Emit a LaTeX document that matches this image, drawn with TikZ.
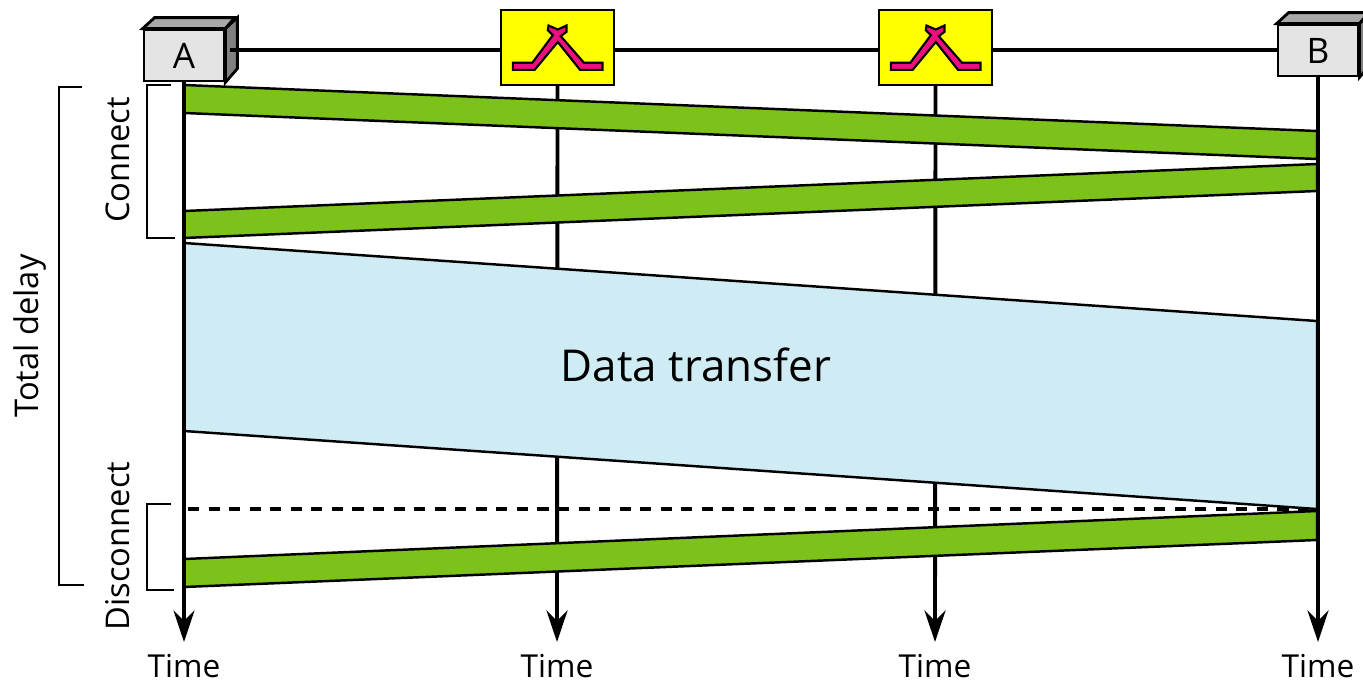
\documentclass[tikz,border=0pt]{standalone}
\usepackage{fontspec}
\setmainfont{Open Sans}
\usetikzlibrary{
  arrows.meta
}

\definecolor{bandgreen}{HTML}{7DC21A}
\definecolor{datablue}{HTML}{CFECF5}
\definecolor{crosspink}{HTML}{EE0F7F}
\definecolor{switchyellow}{HTML}{FFFF00}
\definecolor{hostfront}{HTML}{E4E4E4}
\definecolor{hosttop}{HTML}{A8A8A8}
\definecolor{hostside}{HTML}{808080}

\tikzset{
  hostbox/.style={draw,line width=1.6pt,fill=hostfront,minimum width=1.6cm,minimum height=1.02cm,inner sep=0pt,font=\fontsize{20}{24}\selectfont},
  switchbox/.style={draw,line width=1.6pt,fill=switchyellow,minimum width=2.26cm,minimum height=1.5cm,inner sep=0pt},
  timelabel/.style={anchor=north,inner xsep=0pt,inner ysep=0pt,text height=20pt,text depth=0pt,font=\fontsize{18}{21}\selectfont},
  sidelabel/.style={rotate=90,inner sep=0pt,font=\fontsize{18.6}{22}\selectfont},
  timeline/.style={line width=2.2pt,-{Stealth[length=18pt,width=12pt,inset=6pt]}},
  wire/.style={line width=2.2pt},
  band/.style={draw,line width=1.4pt,fill=bandgreen},
  bracket/.style={line width=.8pt},
  crossing/.pic={
    \draw[line width=1.2pt,fill=crosspink,line join=miter] (-44.7,15.3) -- (-25.2,15.3) -- (-4.7,-12.3) -- (-9.7,-17.3) -- (-9,-22) -- (.3,-18) -- (9,-22) -- (9,-15.7) -- (3.3,-11.3) -- (26.5,15.3) -- (45,15.3) -- (45,22.3) -- (22.5,22.3) -- (.3,-5.5) -- (-22.8,22.3) -- (-44.7,22.3) -- cycle;
  }
}

\newcommand{\hostfaces}[1]{
  \draw[line width=1.6pt,fill=hosttop] (#1.north west) -- ++(12,-11) -- ++(80,0) -- (#1.north east) -- cycle;
  \draw[line width=1.6pt,fill=hostside] (#1.north east) -- ++(12,-11) -- ++(0,51) -- (#1.south east) -- cycle;
}

\begin{document}
\begin{tikzpicture}[x=.02cm,y=-.02cm]
  \useasboundingbox (0,0) rectangle (1363,680);

  \node[hostbox] (hostA) at (184,55.5) {A};
  \node[hostbox] (hostB) at (1318,50.5) {B};
  \hostfaces{hostA}
  \hostfaces{hostB}
  \node[switchbox] (switchL) at (557.5,47.5) {};
  \node[switchbox] (switchR) at (935.5,47.5) {};
  \pic at (switchL) {crossing};
  \pic at (switchR) {crossing};

  \coordinate (portA) at (230,50);
  \draw[wire] (portA) -- (portA -| switchL.west);
  \draw[wire] (portA -| switchL.east) -- (portA -| switchR.west);
  \draw[wire] (portA -| switchR.east) -- (portA -| hostB.west);

  \node[timelabel] (timeA) at (184,642) {Time};
  \node[timelabel] (timeL) at (557,642) {Time};
  \node[timelabel] (timeR) at (935,642) {Time};
  \node[timelabel] (timeB) at (1318,642) {Time};

  \draw[timeline] (switchL) ++(0,37.5) -- (timeL.north);
  \draw[timeline] (switchR) ++(0,37.5) -- (timeR.north);

  \draw[band] (184,85) -- (1317,131) -- (1317,159) -- (184,113) -- cycle;
  \draw[band] (184,211) -- (1317,164) -- (1317,191) -- (184,238) -- cycle;
  \draw[band,fill=datablue] (184,243) -- (1317,321) -- (1317,509) -- (184,431) -- cycle;
  \draw[band] (184,559) -- (1317,511) -- (1317,540) -- (184,587) -- cycle;

  \draw[timeline] (hostA) ++(0,25.5) -- (timeA.north);
  \draw[timeline] (hostB) ++(0,25.5) -- (timeB.north);

  \draw[line width=1.8pt,dash pattern=on 6.3pt off 5.4pt] (188,509) -- (1317,509);

  \node[font=\fontsize{25}{30}\selectfont,inner sep=0pt] (dataLabel) at (696,365) {Data transfer};

  \draw[bracket] (171,85) -- (147,85) -- (147,238) -- (175,238);
  \draw[bracket] (171,504) -- (147,504) -- (147,590) -- (174,590);
  \draw[bracket] (82,87) -- (59,87) -- (59,585) -- (84,585);

  \node[sidelabel] (connectLabel) at (118,160) {Connect};
  \node[sidelabel] (disconnectLabel) at (118,546) {Disconnect};
  \node[sidelabel] (delayLabel) at (30,336) {Total delay};
\end{tikzpicture}
\end{document}
